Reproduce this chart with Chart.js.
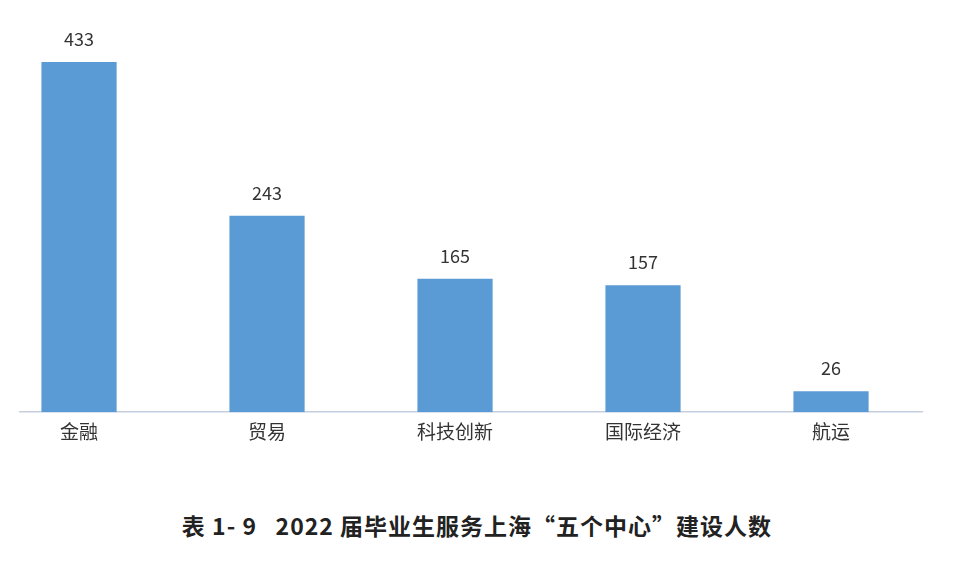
<!DOCTYPE html>
<html><head><meta charset="utf-8">
<script src="https://cdn.jsdelivr.net/npm/chart.js@4"></script>
<style>
body{margin:0;background:#fff;width:954px;height:570px;overflow:hidden;font-family:"Noto Sans CJK SC",sans-serif;}
#wrap{position:absolute;left:0;top:0;width:954px;height:451px;}
#title{position:absolute;left:0;width:954px;top:508px;text-align:center;font-size:23px;font-weight:bold;color:#222;letter-spacing:1px;}
</style></head><body>
<div id="wrap"><canvas id="c"></canvas></div>
<div id="title">表 1- 9 &nbsp; 2022 届毕业生服务上海“五个中心”建设人数</div>
<script>
const categories = ["金融","贸易","科技创新","国际经济","航运"];
const values = [433,243,165,157,26];
const pts = values.map((v,i)=>({x:i,y:v}));
const labelPlugin = {id:'lbl',afterDatasetsDraw(ch){
  const ctx=ch.ctx; const meta=ch.getDatasetMeta(0);
  ctx.save();ctx.font='18px "Noto Sans CJK SC", sans-serif';ctx.fillStyle='#333';ctx.textAlign='center';ctx.textBaseline='bottom';
  meta.data.forEach((b,i)=>ctx.fillText(String(values[i]),b.x,b.y-14));
  ctx.restore();}};
new Chart(document.getElementById('c'),{
  type:'bar',
  data:{datasets:[{data:pts,backgroundColor:'#5b9bd5',barPercentage:0.4,categoryPercentage:1}]},
  options:{responsive:true,maintainAspectRatio:false,animation:false,
    layout:{padding:{top:20,left:20,right:32}},
    plugins:{legend:{display:false},tooltip:{enabled:false}},
    scales:{
      x:{type:'linear',min:-0.314,max:4.484,offset:false,
        afterBuildTicks(a){a.ticks=categories.map((c,i)=>({value:i}));},
        ticks:{callback:(v)=>categories[v]??'',font:{size:19,family:'"Noto Sans CJK SC", sans-serif'},color:'#333',padding:8,maxRotation:0,autoSkip:false},
        grid:{display:false,drawTicks:false,offset:false},border:{color:'#c6cfe0',width:1.5}},
      y:{display:false,min:0,max:485}
    }},
  plugins:[labelPlugin]
});
</script></body></html>
